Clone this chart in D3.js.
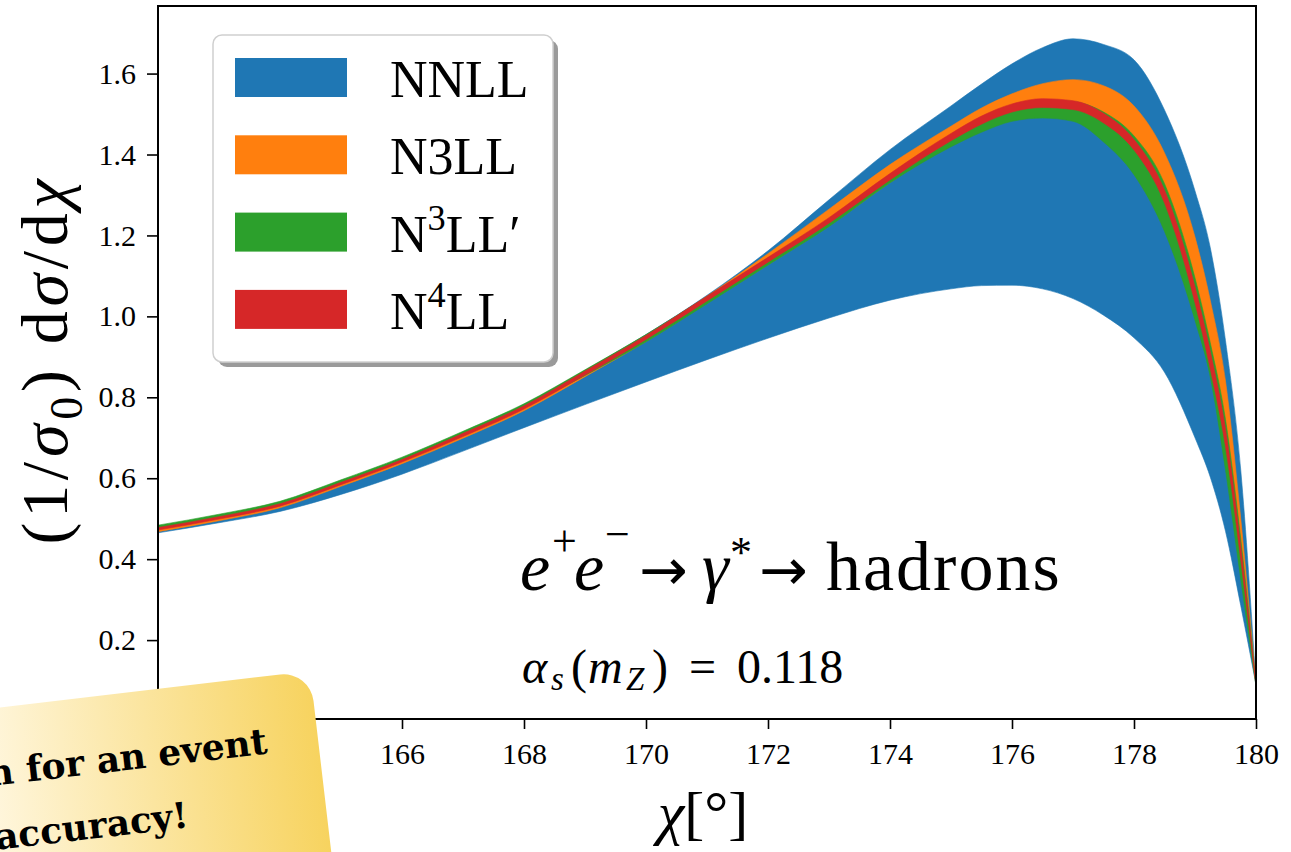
<!DOCTYPE html>
<html>
<head>
<meta charset="utf-8">
<script src="https://cdn.jsdelivr.net/npm/d3@7"></script>
<style>
  body { margin: 0; background: #fff; }
  text { font-family: "Liberation Serif", "DejaVu Serif", serif; fill: #000; }
</style>
</head>
<body>
<div id="chart"></div>
<script>
// values (chi in degrees, band = lower / upper edge)
var chi = [162, 163, 164, 165, 166, 167, 168, 169, 170, 171, 172, 173, 174, 175, 175.5, 176, 176.5, 177, 177.5, 178, 178.5, 179, 179.25, 179.5, 179.75, 180];

var nnllLow  = [0.465, 0.490, 0.518, 0.560, 0.610, 0.667, 0.725, 0.782, 0.838, 0.893, 0.946, 0.996, 1.040, 1.068, 1.076, 1.077, 1.068, 1.044, 1.003, 0.947, 0.862, 0.700, 0.603, 0.469, 0.285, 0.090];
var nnllHigh = [0.478, 0.505, 0.537, 0.590, 0.647, 0.712, 0.782, 0.866, 0.955, 1.052, 1.162, 1.288, 1.412, 1.520, 1.574, 1.624, 1.664, 1.686, 1.672, 1.634, 1.510, 1.310, 1.170, 0.940, 0.620, 0.090];

var n3llLow  = [0.468, 0.495, 0.527, 0.580, 0.636, 0.699, 0.767, 0.851, 0.938, 1.033, 1.128, 1.224, 1.331, 1.426, 1.467, 1.497, 1.509, 1.504, 1.467, 1.398, 1.262, 1.012, 0.862, 0.652, 0.382, 0.088];
var n3llHigh = [0.480, 0.507, 0.539, 0.592, 0.648, 0.712, 0.781, 0.866, 0.953, 1.050, 1.155, 1.265, 1.375, 1.470, 1.515, 1.550, 1.575, 1.585, 1.570, 1.520, 1.404, 1.196, 1.040, 0.840, 0.500, 0.092];

var n3llpLow  = [0.477, 0.504, 0.536, 0.589, 0.645, 0.709, 0.776, 0.854, 0.937, 1.031, 1.127, 1.222, 1.330, 1.419, 1.455, 1.482, 1.490, 1.482, 1.431, 1.350, 1.210, 0.990, 0.850, 0.620, 0.350, 0.086];
var n3llpHigh = [0.484, 0.511, 0.543, 0.596, 0.652, 0.716, 0.784, 0.868, 0.955, 1.049, 1.144, 1.241, 1.350, 1.448, 1.492, 1.522, 1.535, 1.531, 1.505, 1.446, 1.328, 1.095, 0.935, 0.745, 0.450, 0.094];

var n4llLow  = [0.472, 0.499, 0.531, 0.584, 0.640, 0.703, 0.771, 0.855, 0.943, 1.038, 1.134, 1.230, 1.337, 1.434, 1.475, 1.505, 1.516, 1.511, 1.478, 1.411, 1.280, 1.033, 0.870, 0.678, 0.398, 0.088];
var n4llHigh = [0.478, 0.505, 0.537, 0.590, 0.646, 0.711, 0.779, 0.865, 0.953, 1.050, 1.146, 1.244, 1.353, 1.452, 1.495, 1.525, 1.538, 1.533, 1.502, 1.437, 1.312, 1.073, 0.914, 0.722, 0.432, 0.092];

var xTicks = [162, 164, 166, 168, 170, 172, 174, 176, 178, 180];
var yTicks = [0.2, 0.4, 0.6, 0.8, 1.0, 1.2, 1.4, 1.6];

// legend labels: [main, superscript, rest]
var legendLabels = [["NNLL", "", ""], ["N3LL", "", ""], ["N", "3", "LL\u2032"], ["N", "4", "LL"]];
var bandColors = ["#1f77b4", "#ff7f0e", "#2ca02c", "#d62728"];

var noteLines = ["n for an event", "accuracy!"];

var width = 1291, height = 852;
var plotLeft = 158, plotRight = 1256, plotTop = 6, plotBottom = 719;

var svg = d3.select("#chart")
  .append("svg")
  .attr("width", width)
  .attr("height", height);

var defs = svg.append("defs");
defs.append("clipPath").attr("id", "plotclip")
  .append("rect")
  .attr("x", plotLeft).attr("y", plotTop)
  .attr("width", plotRight - plotLeft).attr("height", plotBottom - plotTop);

var xscale = d3.scaleLinear().domain([162, 180]).range([plotLeft, plotRight]);
var yscale = d3.scaleLinear().domain([0.005, 1.767]).range([plotBottom, plotTop]);

// bands, drawn in order so the higher orders sit on top
var bands = [
  { low: nnllLow, high: nnllHigh },
  { low: n3llLow, high: n3llHigh },
  { low: n3llpLow, high: n3llpHigh },
  { low: n4llLow, high: n4llHigh }
];

var area = d3.area()
  .x(function(d) { return xscale(d.x); })
  .y0(function(d) { return yscale(d.lo); })
  .y1(function(d) { return yscale(d.hi); })
  .curve(d3.curveMonotoneX);

var bandLayer = svg.append("g").attr("clip-path", "url(#plotclip)");
bands.forEach(function(b, k) {
  var pts = chi.map(function(x, i) { return { x: x, lo: b.low[i], hi: b.high[i] }; });
  bandLayer.append("path")
    .attr("d", area(pts))
    .attr("fill", bandColors[k])
    .attr("stroke", bandColors[k])
    .attr("stroke-width", 0.6);
});

// axes
var xAxis = d3.axisBottom(xscale).tickValues(xTicks).tickSize(10).tickSizeOuter(0).tickPadding(14)
  .tickFormat(d3.format("d"));
var yAxis = d3.axisLeft(yscale).tickValues(yTicks).tickSize(11).tickSizeOuter(0).tickPadding(11)
  .tickFormat(d3.format(".1f"));

var gx = svg.append("g").attr("transform", "translate(0," + plotBottom + ")").call(xAxis);
var gy = svg.append("g").attr("transform", "translate(" + plotLeft + ",0)").call(yAxis);
[gx, gy].forEach(function(g) {
  g.select(".domain").remove();
  g.selectAll(".tick line").attr("stroke", "#000").attr("stroke-width", 1.6);
  g.selectAll(".tick text").style("font-size", "30px").attr("fill", "#000");
});

// frame
svg.append("rect")
  .attr("x", plotLeft).attr("y", plotTop)
  .attr("width", plotRight - plotLeft).attr("height", plotBottom - plotTop)
  .attr("fill", "none").attr("stroke", "#000").attr("stroke-width", 2);

// rich text helper: parts {t, i: italic, s: 1 sup / -1 sub}
function addRich(textSel, parts, size) {
  var cur = 0;
  parts.forEach(function(p) {
    var off = p.s === 1 ? -0.42 * size : (p.s === -1 ? 0.22 * size : 0);
    textSel.append("tspan")
      .attr("dy", off - cur)
      .attr("font-size", p.s ? size * 0.7 : size)
      .attr("font-style", p.i ? "italic" : "normal")
      .text(p.t);
    cur = off;
  });
}

// placed text pieces: {t, x, y, size, i, fam, ls}
function addPlaced(parent, parts) {
  var t = parent.append("text");
  parts.forEach(function(p) {
    var s = t.append("tspan")
      .attr("x", p.x).attr("y", p.y)
      .style("font-size", p.size + "px")
      .style("font-style", p.i ? "italic" : "normal")
      .text(p.t);
    if (p.fam) s.style("font-family", p.fam);
    if (p.ls) s.style("letter-spacing", p.ls + "px");
  });
  return t;
}

// axis labels
var xl = svg.append("text").attr("x", 703).attr("y", 833).attr("text-anchor", "middle").attr("font-size", 60);
addRich(xl, [{ t: "\u03c7", i: true }, { t: "[\u00b0]" }], 60);

var yl = svg.append("text")
  .attr("transform", "translate(67,362) rotate(-90)")
  .attr("text-anchor", "middle")
  .attr("font-size", 66)
  .attr("textLength", 365)
  .attr("lengthAdjust", "spacing");
addRich(yl, [
  { t: "(1/" }, { t: "\u03c3", i: true }, { t: "0", s: -1 }, { t: ") d" },
  { t: "\u03c3", i: true }, { t: "/d" }, { t: "\u03c7", i: true }
], 66);

// process annotations
var arrowFam = "DejaVu Sans, sans-serif";
addPlaced(svg, [
  { t: "e", x: 520, y: 590, size: 68, i: true },
  { t: "+", x: 552, y: 556, size: 44 },
  { t: "e", x: 574, y: 590, size: 68, i: true },
  { t: "\u2212", x: 605, y: 549, size: 44 },
  { t: "\u2192", x: 639, y: 590, size: 58, fam: arrowFam },
  { t: "\u03b3", x: 702, y: 590, size: 68, i: true },
  { t: "*", x: 730, y: 567, size: 44 },
  { t: "\u2192", x: 759, y: 590, size: 58, fam: arrowFam },
  { t: "hadrons", x: 826, y: 590, size: 70, ls: 2 }
]);

addPlaced(svg, [
  { t: "\u03b1", x: 522, y: 683, size: 48, i: true },
  { t: "s", x: 551, y: 690, size: 33, i: true },
  { t: "(", x: 571, y: 683, size: 48 },
  { t: "m", x: 588, y: 683, size: 48, i: true },
  { t: "Z", x: 626, y: 690, size: 33, i: true },
  { t: ")", x: 652, y: 683, size: 48 },
  { t: "=", x: 689, y: 683, size: 48 },
  { t: "0.118", x: 737, y: 683, size: 48 }
]);

// legend
var legend = svg.append("g");
legend.append("rect")
  .attr("x", 218).attr("y", 40).attr("width", 340).attr("height", 327).attr("rx", 9)
  .attr("fill", "#9a9a9a");
legend.append("rect")
  .attr("x", 213).attr("y", 35).attr("width", 340).attr("height", 327).attr("rx", 9)
  .attr("fill", "#fff").attr("stroke", "#cfcfcf").attr("stroke-width", 1.5);

legendLabels.forEach(function(lab, i) {
  legend.append("rect")
    .attr("x", 235).attr("y", 58 + i * 77.3)
    .attr("width", 112).attr("height", 39)
    .attr("fill", bandColors[i]);
  var t = legend.append("text").attr("x", 390).attr("y", 97 + i * 77.3).attr("font-size", 52);
  var parts = [{ t: lab[0] }];
  if (lab[1]) parts.push({ t: lab[1], s: 1 });
  if (lab[2]) parts.push({ t: lab[2] });
  addRich(t, parts, 52);
});

// yellow note card overlapping the bottom-left corner
var grad = defs.append("linearGradient").attr("id", "noteFill")
  .attr("gradientUnits", "userSpaceOnUse")
  .attr("x1", -340).attr("y1", 0).attr("x2", 0).attr("y2", 0);
grad.append("stop").attr("offset", 0).attr("stop-color", "#fff7e0");
grad.append("stop").attr("offset", 1).attr("stop-color", "#f7d35f");

var note = svg.append("g").attr("transform", "translate(310,671) rotate(-6.7)");
note.append("rect")
  .attr("x", -560).attr("y", 0).attr("width", 560).attr("height", 320).attr("rx", 30)
  .attr("fill", "url(#noteFill)");
[[noteLines[0], -51, 77], [noteLines[1], -138, 141]].forEach(function(l) {
  note.append("text")
    .attr("x", l[1]).attr("y", l[2]).attr("text-anchor", "end")
    .style("font-family", "DejaVu Serif, serif")
    .style("font-weight", "bold")
    .style("font-size", "36px")
    .text(l[0]);
});
</script>
</body>
</html>
